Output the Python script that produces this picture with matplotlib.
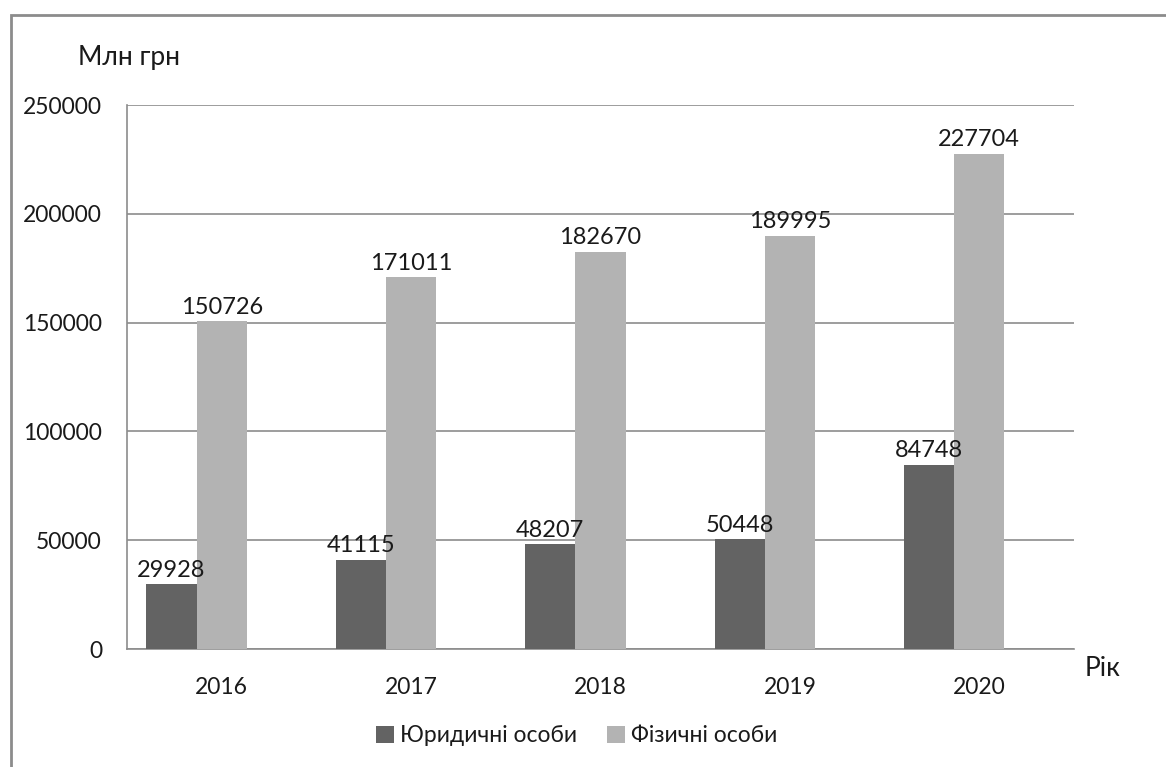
import matplotlib.pyplot as plt
import numpy as np
from matplotlib.patches import Rectangle

years = ['2016', '2017', '2018', '2019', '2020']
legal = [29928, 41115, 48207, 50448, 84748]
physical = [150726, 171011, 182670, 189995, 227704]
series_names = ['Юридичні особи', 'Фізичні особи']
y_ticks = [0, 50000, 100000, 150000, 200000, 250000]

plt.rcParams['font.family'] = ['Lato', 'Open Sans', 'DejaVu Sans']
fs = 16.5
txt = '#1a1a1a'

fig = plt.figure(figsize=(11.66, 7.67), dpi=100)
# outer frame (only left and top edges visible in the original crop)
fig.add_artist(Rectangle((11 / 1166, -0.1), 1.2, 1 - 15 / 767 + 0.1,
                         transform=fig.transFigure, fill=False,
                         edgecolor='#8c8c8c', linewidth=2))

ax = fig.add_axes([127 / 1166, 1 - 649 / 767, (1074 - 127) / 1166, (649 - 105) / 767])

x = np.arange(len(years))
w = 0.265
dark, light = '#636363', '#b3b3b3'
# light bar sits on the category centre, dark one just left of it
b1 = ax.bar(x - w, legal, w, color=dark, label=series_names[0], zorder=3)
b2 = ax.bar(x, physical, w, color=light, label=series_names[1], zorder=3)

for bars, vals in ((b1, legal), (b2, physical)):
    for r, v in zip(bars, vals):
        ax.text(r.get_x() + r.get_width() / 2, v + 1500, str(v),
                ha='center', va='bottom', fontsize=17, color=txt, zorder=4)

ax.set_xlim(-0.5, len(years) - 0.5)
ax.set_ylim(0, 250000)
ax.set_yticks(y_ticks)
ax.set_yticklabels([str(t) for t in y_ticks])
ax.set_xticks(x)
ax.set_xticklabels(years)
ax.tick_params(axis='both', length=0, labelsize=fs, colors=txt)
ax.tick_params(axis='x', pad=20)
ax.tick_params(axis='y', pad=18)
ax.grid(axis='y', color='#8c8c8c', linewidth=1.2, zorder=0)
for s in ('top', 'right'):
    ax.spines[s].set_visible(False)
for s in ('left', 'bottom'):
    ax.spines[s].set_color('#8c8c8c')
    ax.spines[s].set_linewidth(1.2)

fig.text(78 / 1166, 1 - 57 / 767, 'Млн грн', fontsize=19, va='center', ha='left', color=txt)
fig.text(1085 / 1166, 1 - 668 / 767, 'Рік', fontsize=19, va='center', ha='left', color=txt)

ax.legend(loc='center', bbox_to_anchor=(0.475, (649 - 736) / (649 - 105)), ncol=2,
          frameon=False, fontsize=fs, handlelength=0.8, handleheight=0.8,
          handletextpad=0.25, columnspacing=1.3, labelcolor=txt)

fig.savefig('out.png', dpi=100)
